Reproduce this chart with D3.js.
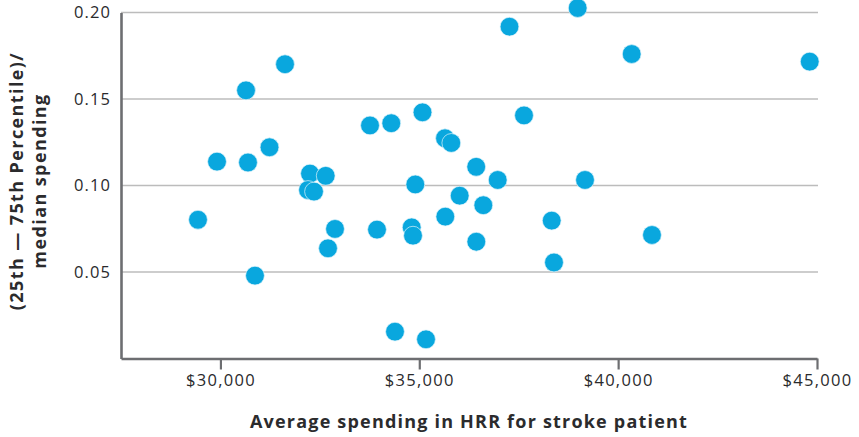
<!DOCTYPE html>
<html>
<head>
<meta charset="utf-8">
<script src="https://cdn.jsdelivr.net/npm/d3@7"></script>
<style>
  html, body { margin: 0; padding: 0; background: #ffffff; }
  svg { display: block; }
  text { font-family: "Open Sans", "Lato", sans-serif; }
  .title { font-family: "Open Sans", "Lato", sans-serif; font-weight: 700; }
</style>
</head>
<body>
<svg id="chart" width="859" height="437"></svg>
<script>
// Average spending in HRR for stroke patient (USD)
const spending = [
  29436, 29914, 30643, 30693, 30869, 31234, 31624, 32252, 32647, 32202,
  32353, 32881, 32705, 33761, 34296, 33937, 34389, 35169, 35081, 34900,
  34809, 34842, 35647, 35805, 35654, 36016, 36431, 36434, 36610, 36972,
  37268, 37633, 38330, 38387, 38983, 39167, 40341, 40851, 44817
];
// (25th - 75th percentile) / median spending
const spread = [
  0.0802, 0.1138, 0.1550, 0.1133, 0.0479, 0.1221, 0.1701, 0.1069, 0.1056, 0.0974,
  0.0965, 0.0749, 0.0637, 0.1347, 0.1360, 0.0745, 0.0155, 0.0111, 0.1423, 0.1006,
  0.0758, 0.0710, 0.1273, 0.1246, 0.0820, 0.0941, 0.1108, 0.0675, 0.0886, 0.1032,
  0.1918, 0.1405, 0.0797, 0.0555, 0.2026, 0.1032, 0.1760, 0.0714, 0.1716
];
const xTicks = [30000, 35000, 40000, 45000];
const yTicks = [0.05, 0.10, 0.15, 0.20];
const xTitle = "Average spending in HRR for stroke patient";
const yTitleLines = ["(25th \u2014 75th Percentile)/", "median spending"];

const points = spending.map((v, i) => ({ x: v, y: spread[i] }));

const svg = d3.select("#chart");
const mLeft = 121, mRight = 817, mTop = 12.5, mBottom = 358.5;

const x = d3.scaleLinear().domain([27500, 45000]).range([mLeft, mRight]);
const y = d3.scaleLinear().domain([0, 0.20]).range([mBottom, mTop]);

// gridlines
svg.append("g")
  .selectAll("line")
  .data(yTicks)
  .join("line")
  .attr("x1", mLeft)
  .attr("x2", mRight + 1)
  .attr("y1", d => y(d))
  .attr("y2", d => y(d))
  .attr("stroke", "#bcbcbc")
  .attr("stroke-width", 1.5);

// x axis
const xAxis = svg.append("g")
  .attr("transform", `translate(0,${mBottom})`)
  .call(d3.axisBottom(x).tickValues(xTicks).tickFormat(d3.format("$,")).tickSize(11).tickSizeOuter(0).tickPadding(5));
xAxis.select(".domain").attr("stroke", "#6d6e71").attr("stroke-width", 2.6);
xAxis.selectAll(".tick line").attr("stroke", "#6d6e71").attr("stroke-width", 2.2);
xAxis.selectAll(".tick text")
  .attr("fill", "#2a2a2c")
  .style("font-size", "16.5px")
  .style("font-weight", 400)
  .style("letter-spacing", "1.3px");

// y axis
const yAxis = svg.append("g")
  .attr("transform", `translate(${mLeft},0)`)
  .call(d3.axisLeft(y).tickValues(yTicks).tickFormat(d3.format(".2f")).tickSize(0).tickSizeOuter(0).tickPadding(10));
yAxis.select(".domain").attr("stroke", "#6d6e71").attr("stroke-width", 2.6);
yAxis.selectAll(".tick text")
  .attr("fill", "#2a2a2c")
  .style("font-size", "16.5px")
  .style("font-weight", 400)
  .style("letter-spacing", "1.1px");

// dots
svg.append("g")
  .selectAll("circle")
  .data(points)
  .join("circle")
  .attr("cx", d => x(d.x))
  .attr("cy", d => y(d.y))
  .attr("r", 9.4)
  .attr("fill", "#09a7de")
  .attr("stroke", "#dff3fb")
  .attr("stroke-width", 0.7);

// x title
svg.append("text")
  .attr("class", "title")
  .attr("x", 469)
  .attr("y", 428)
  .attr("text-anchor", "middle")
  .attr("fill", "#2b2b2d")
  .style("font-size", "18px")
  .style("letter-spacing", "1.2px")
  .text(xTitle);

// y title
const yt = svg.append("text")
  .attr("class", "title")
  .attr("transform", "translate(0,181) rotate(-90)")
  .attr("text-anchor", "middle")
  .attr("fill", "#2b2b2d")
  .style("font-size", "18px")
  .style("letter-spacing", "1.4px");
yt.append("tspan").attr("x", 0).attr("y", 23).text(yTitleLines[0]);
yt.append("tspan").attr("x", 0).attr("y", 46).text(yTitleLines[1]);
</script>
</body>
</html>
